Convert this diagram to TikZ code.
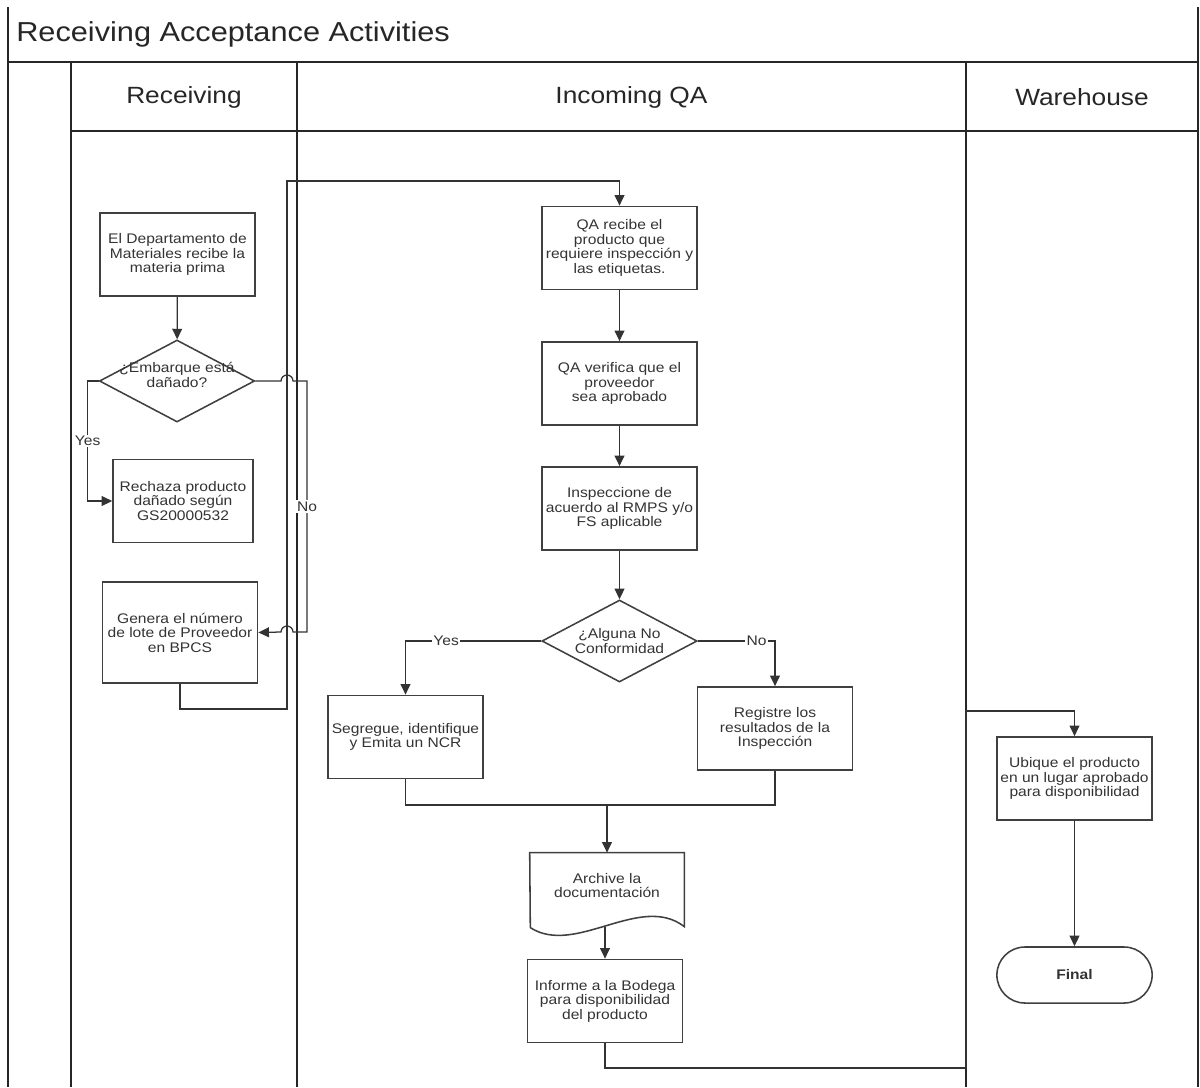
\documentclass[tikz,border=0pt]{standalone}
\usepackage{fontspec}
\setmainfont{Liberation Sans}[FakeStretch=1.12]
\usetikzlibrary{arrows.meta,shapes.geometric,positioning,calc}

\begin{document}
\begin{tikzpicture}[
    x=0.025cm, y=-0.025cm,
    lane/.style={draw=black!85, line width=1.4pt},
    box/.style={draw=black!75, line width=1.1pt, minimum width=3.88cm, minimum height=2.08cm, align=center, font=\fontsize{9.9}{10.3}\selectfont, text=black!80, inner sep=1pt},
    dec/.style={draw=black!75, line width=1.1pt, diamond, minimum width=3.88cm, minimum height=2.05cm, inner sep=0pt},
    dtxt/.style={align=center, font=\fontsize{9.9}{10.6}\selectfont, text=black!80, inner sep=0pt},
    doc/.style={minimum width=3.85cm, minimum height=1.63cm, align=center, font=\fontsize{9.9}{10.6}\selectfont, text=black!80, inner sep=1pt},
    term/.style={box, rounded corners=0.7cm, minimum height=1.4cm},
    hdr/.style={font=\fontsize{16.7}{19}\selectfont, text=black!85},
    arr/.style={-{Triangle[length=7.5pt,width=7pt]}, draw=black!80, line width=0.9pt},
    con/.style={draw=black!80, line width=0.9pt},
    lbl/.style={font=\fontsize{9.9}{10.6}\selectfont, fill=white, inner sep=1pt, text=black!80}
]
\useasboundingbox (0,0) rectangle (1200,1087);

\draw[lane] (8,7) -- (8,1087);
\draw[lane] (1198,7) -- (1198,1087);
\draw[lane] (8,62) -- (1198,62);
\draw[lane] (71,62) -- (71,1087);
\draw[lane] (71,131) -- (1198,131);
\draw[lane] (297,62) -- (297,1087);
\draw[lane] (966,62) -- (966,1087);

\node[hdr, anchor=west, inner sep=0pt, font=\fontsize{19.5}{22}\selectfont] (title) at (16,34) {Receiving Acceptance Activities};
\node[hdr] (hrec) at (184,97) {Receiving};
\node[hdr] (hqa) at (631.5,97) {Incoming QA};
\node[hdr] (hwh) at (1082,97) {Warehouse};

\node[box] (dep) at (177.5,254.5) {El Departamento de\\Materiales recibe la\\materia prima};
\node[dec, label={[dtxt, yshift=4pt]center:{¿Embarque está\\dañado?}}] (emb) at (177,381) {};
\node[box, minimum width=3.5cm] (rech) at (183,501) {Rechaza producto\\dañado según\\GS20000532};
\node[box, minimum height=2.53cm] (gen) at (180,632.5) {Genera el número\\de lote de Proveedor\\en BPCS};
\node[box] (qa1) at (619.5,248) {QA recibe el\\producto que\\requiere inspección y\\las etiquetas.};
\node[box] (qa2) at (619.5,383.5) {QA verifica que el\\proveedor\\sea aprobado};
\node[box] (qa3) at (619.5,508.5) {Inspeccione de\\acuerdo al RMPS y/o\\FS aplicable};
\node[dec, label={[dtxt]center:{¿Alguna No\\Conformidad}}] (alg) at (619.5,641) {};
\node[box] (seg) at (405.5,737) {Segregue, identifique\\y Emita un NCR};
\node[box] (reg) at (775,728.5) {Registre los\\resultados de la\\Inspección};
\node[doc] (archv) at (607,885.5) {Archive la\\documentación};
\node[box] (inf) at (605,1001) {Informe a la Bodega\\para disponibilidad\\del producto};
\node[box] (ubi) at (1074.5,778.5) {Ubique el producto\\en un lugar aprobado\\para disponibilidad};
\node[term] (fin) at (1074.5,975) {\bfseries Final};

\draw[draw=black!75, line width=1.1pt] (archv.north west) -- (archv.north east) -- ++(0,74)
    .. controls +(-44,-34) and +(45,29) .. ++(-154,1) -- cycle;

\coordinate (mrg) at (607,805);
\coordinate (wh1) at (966,1068);
\coordinate (wh2) at (966,711);

\draw[arr] (dep) -- (emb);
\draw[arr] (emb.west) -- ++(-11,0) |- node[lbl, pos=0.25] {Yes} (rech.west);
\draw[arr] (emb.east) -- (281,381) arc[start angle=180, end angle=0, radius=0.15cm] -- (307,381)
    -- node[lbl] {No} (307,632) -- (293,632) arc[start angle=0, end angle=180, radius=0.15cm] -- (gen.east);
\draw[arr] (gen.south) -- ++(0,25) -| (287,181) -| (qa1.north);
\draw[arr] (qa1) -- (qa2);
\draw[arr] (qa2) -- (qa3);
\draw[arr] (qa3) -- (alg);
\draw[arr] (alg.west) -| node[lbl, pos=0.35] {Yes} (seg.north);
\draw[arr] (alg.east) -| node[lbl, pos=0.38] {No} (reg.north);
\draw[con] (seg.south) |- (mrg) -| (reg.south);
\draw[arr] (mrg) -- (archv.north);
\draw[arr] ($(archv.south)+(-2,9)$) -- (inf.north);
\draw[arr] (inf.south) |- (wh1) -- (wh2) -| (ubi.north);
\draw[arr] (ubi) -- (fin);
\end{tikzpicture}
\end{document}
